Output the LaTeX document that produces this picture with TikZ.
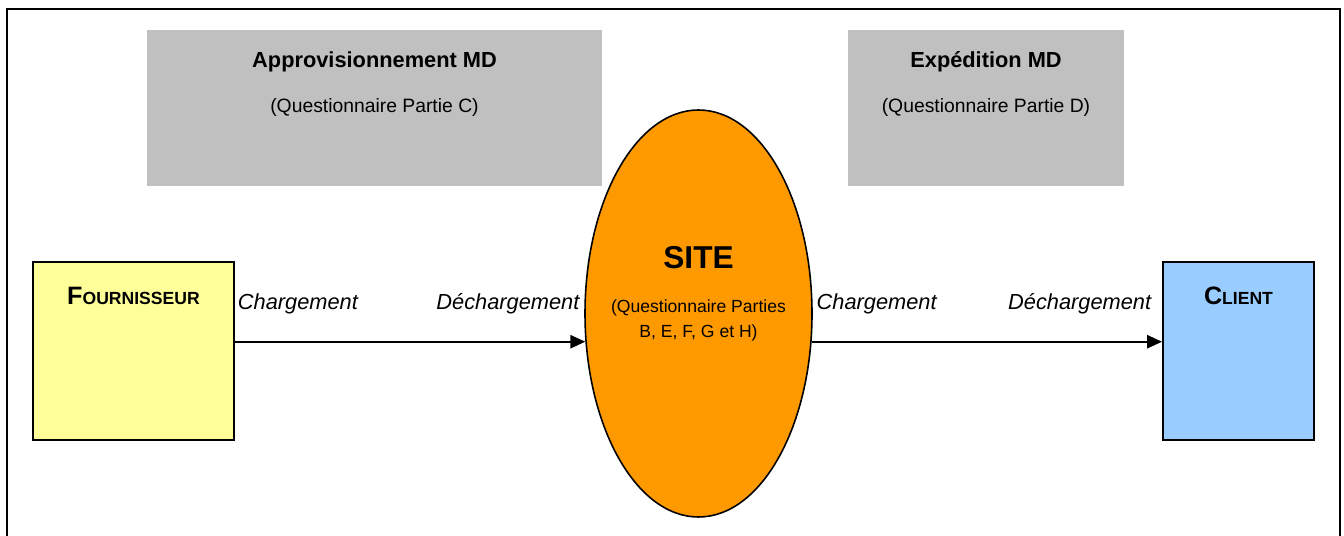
\documentclass[tikz,border=0pt]{standalone}
\usepackage{fontspec}
\setmainfont{Liberation Sans}
\usepackage{tikz}
\usetikzlibrary{calc}
\usetikzlibrary{arrows.meta,positioning,shapes}

\definecolor{grisMD}{HTML}{C0C0C0}
\definecolor{jauneFour}{HTML}{FFFF99}
\definecolor{bleuClient}{HTML}{99CCFF}
\definecolor{orangeSite}{HTML}{FF9900}

\newcommand{\fauxcap}[2]{{\fontsize{14.3}{16}\selectfont #1}{\fontsize{10}{12}\selectfont #2}}

\begin{document}
\begin{tikzpicture}[
    zone/.style={
      rectangle,
      fill=grisMD,
      minimum width=9.1cm,
      minimum height=3.12cm
    },
    acteur/.style={
      rectangle,
      draw=black,
      line width=1.1pt,
      minimum height=3.56cm
    },
    titre/.style={font=\fontsize{12.4}{15}\selectfont\bfseries, inner sep=0},
    sous/.style={font=\fontsize{11}{13}\selectfont, inner sep=0},
    etape/.style={font=\fontsize{12.4}{15}\selectfont\itshape, inner sep=0},
    fleche/.style={-{Triangle[length=8.5pt,width=7.5pt]}, line width=1.1pt}
]

\useasboundingbox (0,0) rectangle (26.88,-10.72);

%% Frame
\draw[line width=1.1pt] (0.14,-10.9) |- (26.8,-0.18) -- (26.8,-10.9);

%% Zones MD
\node [zone] (appro) at (7.49,-2.16) {};
\node [zone, minimum width=5.52cm] (expe) at (19.72,-2.16) {};
\node [titre] (approT) at ($(appro.north)+(0,-0.64)$) {Approvisionnement MD};
\node [sous] (approQ) at (appro) {(Questionnaire Partie C)};
\node [titre] (expeT) at ($(expe.north)+(0,-0.64)$) {Expédition MD};
\node [sous] (expeQ) at (expe) {(Questionnaire Partie D)};

%% Site
\node [ellipse, draw=black, fill=orangeSite, line width=0.9pt, inner sep=0,
       minimum width=4.54cm, minimum height=8.14cm] (site) at (13.97,-6.27) {};
\node [font=\fontsize{18}{20}\selectfont\bfseries, inner sep=0] (siteT) at ($(site)+(0,1.11)$) {SITE};
\node [align=center, inner sep=0, font=\fontsize{10}{14.2}\selectfont] (siteQ) at ($(site)+(0,-0.14)$) {(Questionnaire Parties\\B, E, F, G et H)};

%% Acteurs
\node [acteur, fill=jauneFour, minimum width=4.02cm] (four) at (2.67,-7.02) {};
\node [acteur, fill=bleuClient, minimum width=3.02cm] (client) at (24.77,-7.02) {};
\node [anchor=base, inner sep=0, font=\bfseries] (fourT) at ($(four.north)+(0,-0.86)$) {\fauxcap{F}{OURNISSEUR}};
\node [anchor=base, inner sep=0, font=\bfseries] (clientT) at ($(client.north)+(0,-0.86)$) {\fauxcap{C}{LIENT}};

%% Arrows
\draw [fleche] (four.east |- site.194) -- (site.194)
  node [etape, at start, anchor=base west, xshift=0.04cm, yshift=0.64cm] {Chargement}
  node [etape, at end, anchor=base east, xshift=-0.1cm, yshift=0.64cm] {Déchargement};
\draw [fleche] (site.-14) -- (client.west |- site.-14)
  node [etape, at start, anchor=base west, xshift=0.08cm, yshift=0.64cm] {Chargement}
  node [etape, at end, anchor=base east, xshift=-0.2cm, yshift=0.64cm] {Déchargement};

\end{tikzpicture}
\end{document}
